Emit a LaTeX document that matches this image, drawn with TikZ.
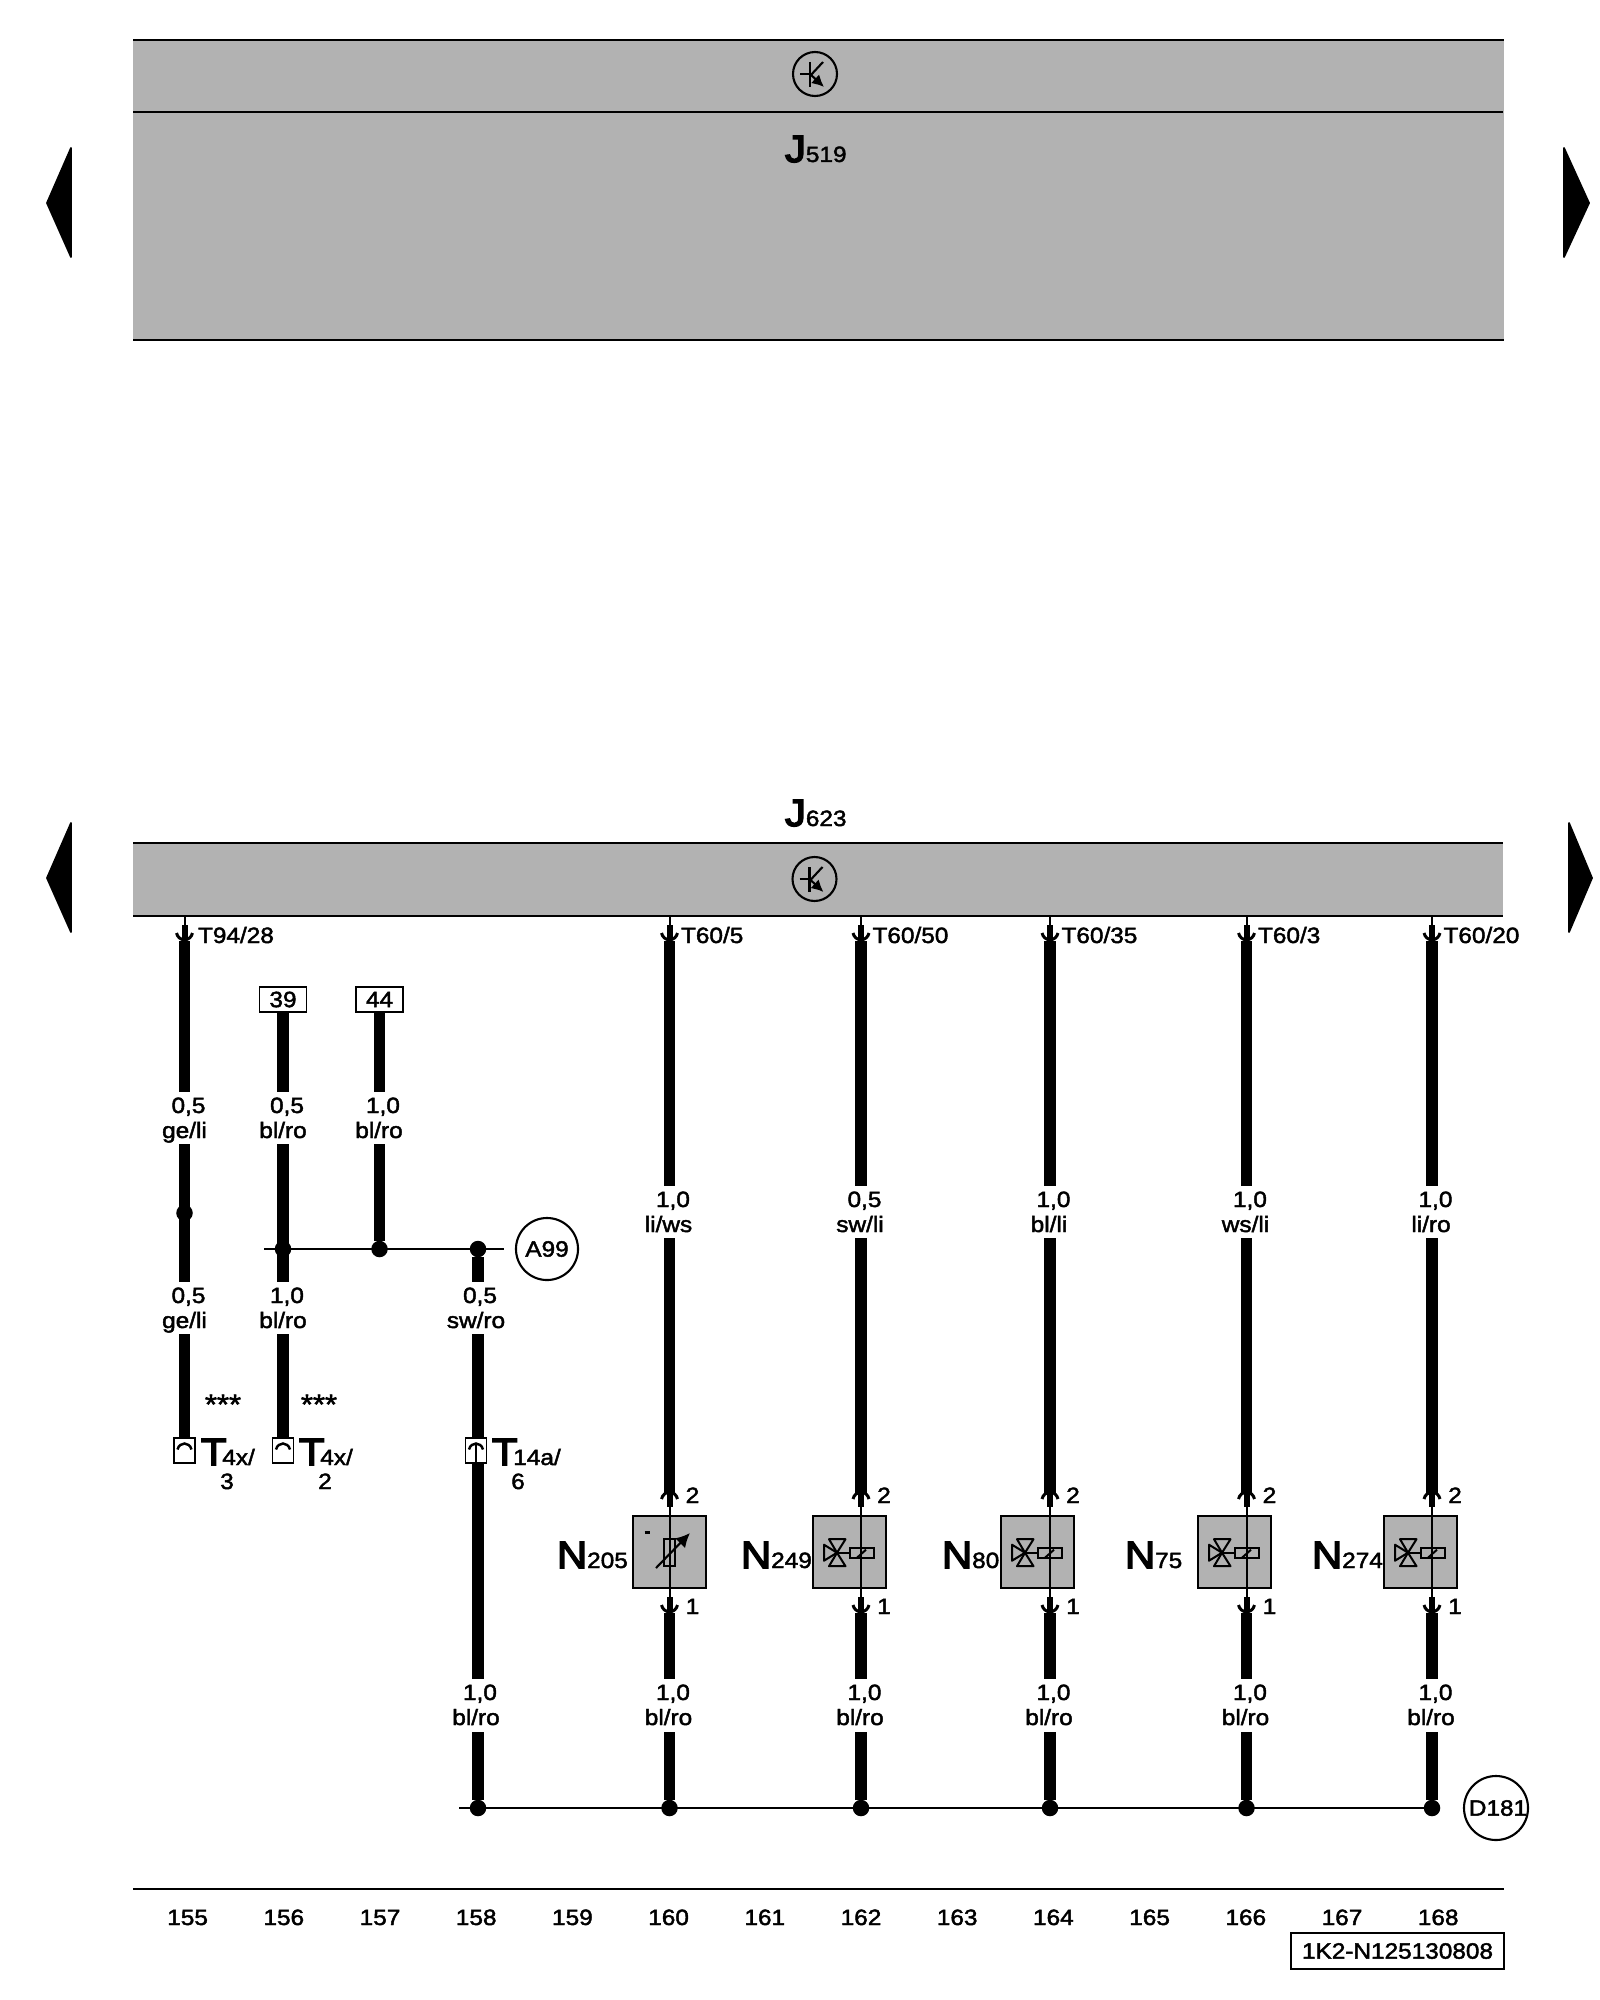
\documentclass[tikz,border=0pt]{standalone}
\usepackage{fontspec}
\setmainfont[FakeStretch=1.1,FakeBold=2]{Liberation Sans}
\newfontfamily\bigfont[FakeStretch=1.1,FakeBold=4]{Liberation Sans}
\usepackage{xcolor}
\usetikzlibrary{arrows.meta}
\usetikzlibrary{calc}
\definecolor{ecugray}{HTML}{B2B2B2}
\newcommand{\smalltext}{\fontsize{6.3}{7}\selectfont}
\newcommand{\bigtext}{\fontsize{10.8}{12}\bigfont\selectfont}
\newcommand{\tagbig}[2]{{\bigtext #1}{\smalltext #2}}

\begin{document}
\begin{tikzpicture}[x=0.01cm, y=-0.01cm, every node/.style={inner sep=0pt, outer sep=0pt},
	hwire/.style={line width=3.4pt}, lwire/.style={line width=0.57pt}, rail/.style={line width=0.7pt},
	txt/.style={anchor=base, font=\smalltext}, txtw/.style={anchor=base west, font=\smalltext},
	ecubar/.style={anchor=north west, fill=ecugray, minimum width=13.7cm},
	relbox/.style={draw, line width=0.6pt, fill=ecugray, minimum width=0.73cm, minimum height=0.725cm},
	numbox/.style={draw, line width=0.5pt, fill=white, minimum width=0.47cm, minimum height=0.25cm, font=\smalltext},
	plugbox/.style={draw, line width=0.5pt, fill=white, minimum width=0.21cm, minimum height=0.25cm},
	ringlabel/.style={circle, draw, line width=0.6pt, minimum size=0.62cm, font=\smalltext},
	dotj/.style={circle, fill=black, minimum size=0.165cm},
	sidearrow/.style={fill=black, draw=black, line width=0.5pt, line join=round},
	plugd/.pic={
		\fill (-3,0) rectangle (3,13);
		\draw[line width=0.85pt] (-8,8) .. controls (-6,17) and (6,17) .. (8,8);
	},
	valve/.pic={
		\draw[lwire] (-11,-5) rectangle (13,5);
		\draw[lwire] (-4,5) -- (5,-3);
		\draw[lwire] (-11,0) -- (-24,0);
		\draw[lwire, line join=round] (-32,-13.5) -- (-15.5,-13.5) -- (-24,0) -- cycle;
		\draw[lwire, line join=round] (-32,13.5) -- (-15.5,13.5) -- (-24,0) -- cycle;
		\draw[lwire, line join=round] (-37,-8) -- (-37,8) -- (-24,0) -- cycle;
	},
	trans/.pic={
		\draw[line width=0.6pt] (0,0) circle[radius=22];
		\draw[line width=0.6pt] (-15,0) -- (-5,0);
		\draw[line width=0.7pt] (-5,-12) -- (-5,13);
		\draw[line width=0.6pt] (-5,2) -- (8,-12);
		\draw[line width=0.6pt, -{Latex[length=3.4pt,width=3.4pt]}] (-5,0) -- (9,13);
	}]
\useasboundingbox (0,0) rectangle (1600,2000);

% control units
\node[ecubar, minimum height=3cm] (J519bar) at (133,40) {};
\node[ecubar, minimum height=0.73cm, minimum width=13.69cm] (J623bar) at (133,843) {};
\coordinate (J519mid1) at (133,112);
\coordinate (J519mid2) at (1503,112);
\draw[rail] (J519bar.north west) -- (J519bar.north east);
\draw[rail] (J519mid1) -- (J519mid2);
\draw[rail] (J519bar.south west) -- (J519bar.south east);
\draw[rail] (J623bar.north west) -- (J623bar.north east);
\draw[rail] (J623bar.south west) -- (J623bar.south east);
\pic at (815,74) {trans};
\pic at (814.5,879) {trans};
\node[anchor=base west] (J519) at (785,162) {\tagbig{J}{519}};
\node[anchor=base west] (J623) at (785,826) {\tagbig{J}{623}};

% page arrows
\filldraw[sidearrow] (71,148) -- (47,203) -- (71,257) -- cycle;
\filldraw[sidearrow] (71,823) -- (47,878) -- (71,932) -- cycle;
\filldraw[sidearrow] (1564,148) -- (1589,203) -- (1564,257) -- cycle;
\filldraw[sidearrow] (1569,823) -- (1592,878) -- (1569,932) -- cycle;

% output wires with a relay or sensor on them
\foreach \id/\x/\bx/\tpin/\gt/\ct in {a/669.5/669.5/{T60/5}/{1,0}/{li/ws}, b/861/849.5/{T60/50}/{0,5}/{sw/li}, c/1050/1037.5/{T60/35}/{1,0}/{bl/li}, d/1246.5/1234.5/{T60/3}/{1,0}/{ws/li}, e/1432/1420.5/{T60/20}/{1,0}/{li/ro}}{
	\coordinate (\id0) at (\x,916);
	\coordinate (\id1) at (\x,925);
	\coordinate (\id2) at (\x,941);
	\coordinate (\id3) at (\x,1186);
	\coordinate (\id4) at (\x,1238);
	\coordinate (\id5) at (\x,1494);
	\coordinate (\id6) at (\x,1507);
	\coordinate (\id7) at (\x,1597);
	\coordinate (\id8) at (\x,1613);
	\coordinate (\id9) at (\x,1679);
	\coordinate (\id10) at (\x,1732);
	\node[dotj] (\id11) at (\x,1808) {};
	\node[relbox] (\id box) at (\bx,1552) {};
	\draw[lwire] (\id0) -- (\id1);
	\draw[lwire] (\id6) -- (\id7);
	\draw[hwire] (\id2) -- (\id3);
	\draw[hwire] (\id4) -- (\id5);
	\draw[hwire] (\id8) -- (\id9);
	\draw[hwire] (\id10) -- (\id11);
	\pic at (\id1) {plugd};
	\pic[yscale=-1] at (\id6) {plugd};
	\pic at (\id7) {plugd};
	\node[txtw] (\id pin) at (\x+11.5,943) {\tpin};
	\node[txt] (\id gt) at (\x+3.5,1207) {\gt};
	\node[txt] (\id ct) at (\x-1,1232) {\ct};
	\node[txt] (\id gb) at (\x+3.5,1700) {1,0};
	\node[txt] (\id cb) at (\x-1,1725) {bl/ro};
	\node[txt] (\id two) at (\x+23,1503) {2};
	\node[txt] (\id one) at (\x+23,1614) {1};
}
\foreach \id in {b,c,d,e}{
	\pic at ($(\id box)+(11.5,0.7)$) {valve};
}

% resistor symbol
\draw[lwire] (664,1539) rectangle (675,1566);
\draw[line width=0.6pt, -{Latex[length=4pt,width=4pt]}] (656,1568) -- (690,1533);
\draw[line width=0.7pt] (644.5,1532.5) -- (649.5,1532.5);

% left hand wires
\coordinate (f0) at (184.5,916);
\coordinate (f1) at (184.5,925);
\coordinate (f2) at (184.5,941);
\coordinate (f3) at (184.5,1092);
\coordinate (f4) at (184.5,1144);
\coordinate (f5) at (184.5,1282);
\coordinate (f6) at (184.5,1334);
\node[plugbox] (P1) at (184.5,1450.5) {};
\node[numbox] (R39) at (283,999.5) {39};
\node[numbox] (R44) at (379.5,999.5) {44};
\coordinate (g3) at (283,1092);
\coordinate (g4) at (283,1144);
\coordinate (g5) at (283,1282);
\coordinate (g6) at (283,1334);
\node[plugbox] (P2) at (283,1450.5) {};
\coordinate (h3) at (379.5,1092);
\coordinate (h4) at (379.5,1144);
\coordinate (k5) at (478,1282);
\coordinate (k6) at (478,1334);
\node[plugbox] (P3) at (476,1450.5) {};
\coordinate (k6b) at (478,1438);
\coordinate (k7) at (478,1462);
\coordinate (k8) at (478,1679);
\coordinate (k9) at (478,1732);
\node[dotj] (k10) at (478,1808) {};
\node[dotj] (f7) at (184.5,1213) {};
\node[dotj] (g7) at (283,1249) {};
\node[dotj] (h7) at (379.5,1249) {};
\node[dotj] (k7j) at (478,1249) {};
\draw[lwire] (f0) -- (f1);
\pic at (f1) {plugd};
\draw[hwire] (f2) -- (f3);
\draw[hwire] (f4) -- (f5);
\draw[hwire] (f6) -- (P1.north);
\draw[hwire] (R39.south) -- (g3);
\draw[hwire] (g4) -- (g5);
\draw[hwire] (g6) -- (P2.north);
\draw[hwire] (R44.south) -- (h3);
\draw[hwire] (h4) -- (h7);
\draw[hwire] (k7j) -- (k5);
\draw[hwire] (k6) -- (k6b);
\draw[hwire] (k7) -- (k8);
\draw[hwire] (k9) -- (k10);
\foreach \p in {P1,P2,P3}{
	\draw[line width=0.7pt] ($(\p)+(-7,-1)$) .. controls ($(\p)+(-5,-9)$) and ($(\p)+(5,-9)$) .. ($(\p)+(7,-1)$);
}
\draw[line width=0.7pt] ($(P3)+(0,-6)$) -- (P3.south);

% gauge and colour labels
\node[txtw] (fpin) at (198,943) {T94/28};
\foreach \n/\x/\y/\gv/\cv in {f/184.5/1113/{0,5}/{ge/li}, g/283/1113/{0,5}/{bl/ro}, h/379/1113/{1,0}/{bl/ro}, m/184.5/1303/{0,5}/{ge/li}, p/283/1303/{1,0}/{bl/ro}, q/476/1303/{0,5}/{sw/ro}, r/476/1700/{1,0}/{bl/ro}}{
	\node[txt] (\n gv) at (\x+4,\y) {\gv};
	\node[txt] (\n cv) at (\x,\y+25) {\cv};
}

% earth rails
\coordinate (railL) at (264,1249);
\coordinate (railR) at (504,1249);
\draw[rail] (railL) -- (railR);
\node[ringlabel] (A99) at (547,1249) {A99};
\coordinate (busL) at (459,1808);
\draw[rail] (busL) -- (e11);
\node[ringlabel] (D181) at (1496,1808) {\hspace*{0.04cm}D181};

% plug names
\node[anchor=base west] (T4xa) at (201,1465) {\tagbig{T\kern-1.2pt}{4x/}};
\node[anchor=base west] (T4xb) at (299,1465) {\tagbig{T\kern-1.2pt}{4x/}};
\node[anchor=base west] (T14a) at (492,1465) {\tagbig{T\kern-1.2pt}{14a/}};
\node[txt] (T4xan) at (227,1489) {3};
\node[txt] (T4xbn) at (325,1489) {2};
\node[txt] (T14an) at (518,1489) {6};
\node[anchor=base, font=\fontsize{8}{9}\selectfont] (stara) at (223,1414) {***};
\node[anchor=base, font=\fontsize{8}{9}\selectfont] (starb) at (319,1414) {***};

% relay names
\node[anchor=base west] (N205) at (557,1568) {\tagbig{N}{205}};
\node[anchor=base west] (N249) at (741,1568) {\tagbig{N}{249}};
\node[anchor=base west] (N80) at (942,1568) {\tagbig{N}{80}};
\node[anchor=base west] (N75) at (1125,1568) {\tagbig{N}{75}};
\node[anchor=base west] (N274) at (1312,1568) {\tagbig{N}{274}};

% footer
\coordinate (footL) at (133,1889);
\coordinate (footR) at (1504,1889);
\draw[rail] (footL) -- (footR);
\foreach \num [count=\i from 0] in {155,...,168}{
	\node[txt] (col\num) at (187.6+96.2*\i,1925) {\num};
}
\node[draw, line width=0.5pt, minimum width=2.13cm, minimum height=0.36cm, font=\smalltext] (stamp) at (1397.5,1951) {1K2-N125130808};
\end{tikzpicture}
\end{document}
